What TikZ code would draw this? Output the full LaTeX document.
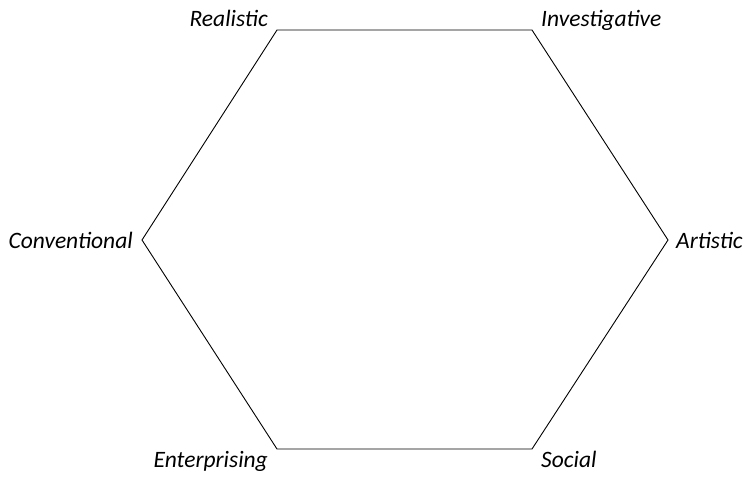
\documentclass[tikz,border=0pt]{standalone}
\usepackage{fontspec}
\setmainfont{Carlito}
\usepackage{tikz}
\usetikzlibrary{positioning}

\tikzset{lab/.style={font=\itshape\fontsize{23.5}{28}\selectfont, inner sep=0pt}}

\begin{document}
\begin{tikzpicture}[x=1pt, y=-1pt]
				\useasboundingbox (0, 0) rectangle (748, 477);
				\coordinate (R1) at (277, 30);
				\coordinate (I1) at (532, 30);
				\coordinate (A1) at (668, 240);
				\coordinate (S1) at (532, 449);
				\coordinate (E1) at (277, 449);
				\coordinate (C1) at (142, 240);
				\draw[line width=0.9pt] (R1) -- (I1) -- (A1) -- (S1) -- (E1) -- (C1) -- cycle;
				\node[lab, anchor=base east] (R2) at (268, 26) {Realistic};
				\node[lab, anchor=base west] (I2) at (541, 26) {Investigative};
				\node[lab, anchor=west] (A2) at (676, 240) {Artistic};
				\node[lab, anchor=base west] (S2) at (541, 467) {Social};
				\node[lab, anchor=base east] (E2) at (268, 467) {Enterprising};
				\node[lab, anchor=east] (C2) at (133, 240) {Conventional};
			\end{tikzpicture}
\end{document}
